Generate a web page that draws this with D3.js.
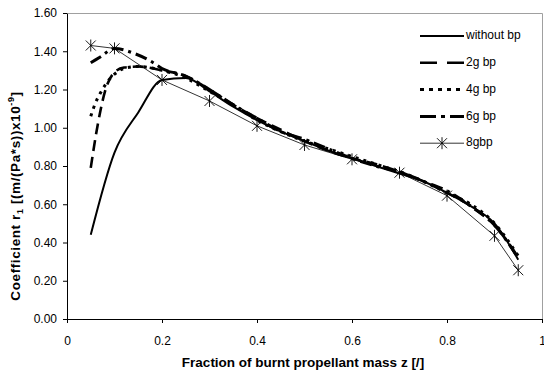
<!DOCTYPE html>
<html>
<head>
<meta charset="utf-8">
<script src="https://cdn.jsdelivr.net/npm/d3@7"></script>
<style>
  body { margin: 0; background: #fff; }
  svg { display: block; font-family: "Liberation Sans", Arial, sans-serif; }
</style>
</head>
<body>
<div id="chart"></div>
<script>
// Data
const seriesNames = ["without bp", "2g bp", "4g bp", "6g bp", "8gbp"];

const withoutBp = [
  [0.05, 0.44], [0.1, 0.87], [0.15, 1.08], [0.2, 1.25], [0.25, 1.26], [0.3, 1.19],
  [0.35, 1.11], [0.4, 1.04], [0.45, 0.98], [0.5, 0.93], [0.55, 0.88], [0.6, 0.84],
  [0.65, 0.80], [0.7, 0.76], [0.75, 0.72], [0.8, 0.66], [0.85, 0.59], [0.9, 0.50], [0.95, 0.31]
];
const bp2g = [
  [0.05, 0.79], [0.065, 1.02], [0.08, 1.19], [0.1, 1.29], [0.12, 1.315], [0.15, 1.32],
  [0.2, 1.30], [0.25, 1.27], [0.3, 1.20], [0.35, 1.12], [0.4, 1.05], [0.45, 0.99],
  [0.5, 0.93], [0.55, 0.88], [0.6, 0.84], [0.65, 0.81], [0.7, 0.77], [0.75, 0.72],
  [0.8, 0.66], [0.85, 0.59], [0.9, 0.49], [0.95, 0.32]
];
const bp4g = [
  [0.05, 1.06], [0.06, 1.13], [0.07, 1.18], [0.085, 1.24], [0.1, 1.28], [0.12, 1.31],
  [0.15, 1.32], [0.2, 1.30], [0.25, 1.26], [0.3, 1.19], [0.35, 1.12], [0.4, 1.04],
  [0.45, 0.98], [0.5, 0.93], [0.55, 0.89], [0.6, 0.85], [0.65, 0.81], [0.7, 0.77],
  [0.75, 0.72], [0.8, 0.66], [0.85, 0.60], [0.9, 0.50], [0.95, 0.33]
];
const bp6g = [
  [0.05, 1.34], [0.07, 1.37], [0.1, 1.415], [0.14, 1.39], [0.175, 1.35], [0.2, 1.31],
  [0.25, 1.27], [0.3, 1.20], [0.35, 1.12], [0.4, 1.05], [0.45, 0.98], [0.5, 0.94],
  [0.55, 0.89], [0.6, 0.84], [0.65, 0.80], [0.7, 0.77], [0.75, 0.72], [0.8, 0.67],
  [0.85, 0.59], [0.9, 0.49], [0.95, 0.32]
];
const bp8g = [
  [0.05, 1.43], [0.1, 1.415], [0.2, 1.25], [0.3, 1.14], [0.4, 1.01], [0.5, 0.91],
  [0.6, 0.835], [0.7, 0.765], [0.8, 0.645], [0.9, 0.435], [0.95, 0.255]
];

const xTicks = [0, 0.2, 0.4, 0.6, 0.8, 1];
const yTicks = [0, 0.2, 0.4, 0.6, 0.8, 1.0, 1.2, 1.4, 1.6];

/*******************************/
/*    Declare the constants    */
/*******************************/
const width = 544;
const height = 374;
const margin = {top: 13, right: 1, bottom: 55, left: 67};
const innerWidth = width - margin.left - margin.right;
const innerHeight = height - margin.top - margin.bottom;

const svg = d3.select("#chart")
  .append("svg")
    .attr("width", width)
    .attr("height", height);

const innerChart = svg
  .append("g")
    .attr("transform", `translate(${margin.left}, ${margin.top})`);

/****************************/
/*    Declare the scales    */
/****************************/
const xScale = d3.scaleLinear()
  .domain([0, 1])
  .range([0, innerWidth - 1]);

const yScale = d3.scaleLinear()
  .domain([0, 1.6])
  .range([innerHeight, 0]);

// Plot frame: grey top and right
innerChart
  .append("path")
    .attr("d", `M0.5,0.5H${innerWidth - 0.5}V${innerHeight}`)
    .attr("fill", "none")
    .attr("stroke", "#a0a0a0")
    .attr("stroke-width", 1);

/*************************/
/*    Axes               */
/*************************/
const bottomAxis = d3.axisBottom(xScale)
  .tickValues(xTicks)
  .tickFormat(d => d3.format("")(d))
  .tickSize(4)
  .tickSizeOuter(0)
  .tickPadding(13);

innerChart
  .append("g")
    .attr("transform", `translate(0, ${innerHeight})`)
    .call(bottomAxis)
    .call(g => g.selectAll("text")
      .style("font-size", "12px")
      .style("font-family", "Liberation Sans, Arial, sans-serif")
      .attr("fill", "#000"));

const leftAxis = d3.axisLeft(yScale)
  .tickValues(yTicks)
  .tickFormat(d3.format(".2f"))
  .tickSize(4)
  .tickSizeOuter(0)
  .tickPadding(6);

innerChart
  .append("g")
    .call(leftAxis)
    .call(g => g.selectAll("text")
      .style("font-size", "12px")
      .style("font-family", "Liberation Sans, Arial, sans-serif")
      .attr("fill", "#000"));

innerChart.selectAll(".domain, .tick line")
  .attr("stroke", "#000");

/********************************/
/*    Lines                     */
/********************************/
const smoothLine = d3.line()
  .x(d => xScale(d[0]))
  .y(d => yScale(d[1]))
  .curve(d3.curveMonotoneX);

const straightLine = d3.line()
  .x(d => xScale(d[0]))
  .y(d => yScale(d[1]));

const styles = [
  {data: withoutBp, width: 2, dash: null, lineGen: smoothLine, legendDash: null},
  {data: bp2g, width: 2.6, dash: "11,6", lineGen: smoothLine, legendDash: "17,10"},
  {data: bp4g, width: 3, dash: "3,5", lineGen: smoothLine, legendDash: "4,5"},
  {data: bp6g, width: 3, dash: "12,5,3,5", lineGen: smoothLine, legendDash: "16,5,4,5"},
  {data: bp8g, width: 0.8, dash: null, lineGen: straightLine, legendDash: null}
];

styles.forEach(s => {
  innerChart
    .append("path")
      .attr("d", s.lineGen(s.data))
      .attr("fill", "none")
      .attr("stroke", "#000")
      .attr("stroke-width", s.width)
      .attr("stroke-dasharray", s.dash);
});

// Star markers for 8gbp
const starSize = 5;
const starPath = `M${-starSize},${-starSize}L${starSize},${starSize}M${-starSize},${starSize}L${starSize},${-starSize}M0,${-starSize - 1}L0,${starSize + 1}`;

innerChart
  .selectAll(".star")
  .data(bp8g)
  .join("path")
    .attr("class", "star")
    .attr("transform", d => `translate(${xScale(d[0])}, ${yScale(d[1])})`)
    .attr("d", starPath)
    .attr("fill", "none")
    .attr("stroke", "#000")
    .attr("stroke-width", 0.9);

/*************************/
/*    Legend             */
/*************************/
const legend = svg
  .append("g")
    .attr("transform", "translate(420, 36)");

seriesNames.forEach((name, i) => {
  const row = legend
    .append("g")
      .attr("transform", `translate(0, ${i * 26.8})`);

  row
    .append("line")
      .attr("x1", 0)
      .attr("x2", 44)
      .attr("stroke", "#000")
      .attr("stroke-width", styles[i].width)
      .attr("stroke-dasharray", styles[i].legendDash);

  if (i === 4) {
    row
      .append("path")
        .attr("transform", "translate(22, 0)")
        .attr("d", starPath)
        .attr("fill", "none")
        .attr("stroke", "#000")
        .attr("stroke-width", 0.9);
  }

  row
    .append("text")
      .text(name)
      .attr("x", 46)
      .attr("dominant-baseline", "middle")
      .style("font-size", "12px");
});

/*************************/
/*    Axis titles        */
/*************************/
svg
  .append("text")
    .text("Fraction of burnt propellant mass z [/]")
    .attr("x", 303)
    .attr("y", 367)
    .attr("text-anchor", "middle")
    .style("font-size", "13.5px")
    .style("font-weight", "bold");

const yTitle = svg
  .append("text")
    .attr("transform", "translate(20, 196) rotate(-90)")
    .attr("text-anchor", "middle")
    .style("font-size", "13.5px")
    .style("letter-spacing", "0.6px")
    .style("font-weight", "bold");

yTitle.append("tspan").text("Coefficient r");
yTitle.append("tspan").text("1").attr("dy", 3).style("font-size", "9px");
yTitle.append("tspan").text(" [(m/(Pa*s))x10").attr("dy", -3);
yTitle.append("tspan").text("-9").attr("dy", -6).style("font-size", "9px");
yTitle.append("tspan").text("]").attr("dy", 6);
</script>
</body>
</html>
